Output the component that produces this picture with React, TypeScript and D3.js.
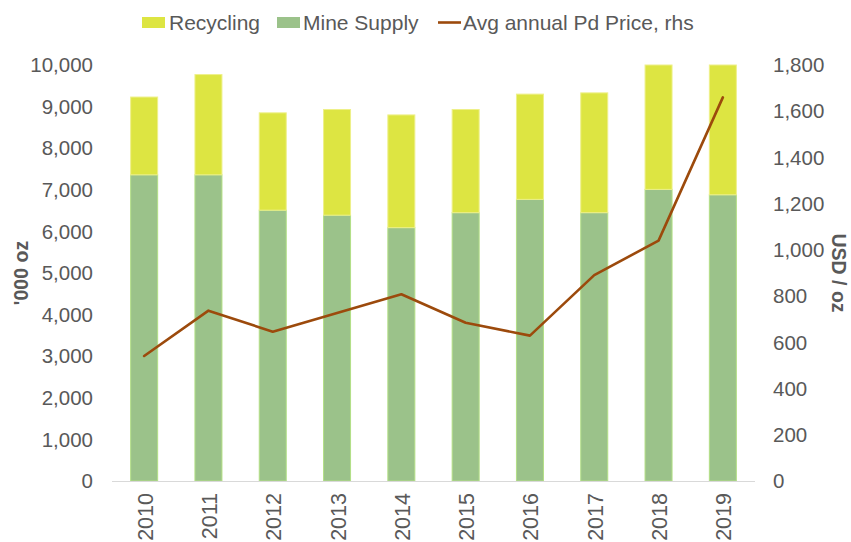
import React from "react";
import * as d3 from "d3";

const years = ["2010", "2011", "2012", "2013", "2014", "2015", "2016", "2017", "2018", "2019"];
const mineSupply = [7360, 7360, 6510, 6390, 6090, 6450, 6770, 6450, 7010, 6880];
const recycling = [1870, 2410, 2340, 2540, 2710, 2480, 2530, 2880, 2990, 3120];
const pdPrice = [541, 737, 646, 727, 808, 685, 629, 891, 1040, 1660];
const leftTicks = [0, 1000, 2000, 3000, 4000, 5000, 6000, 7000, 8000, 9000, 10000];
const rightTicks = [0, 200, 400, 600, 800, 1000, 1200, 1400, 1600, 1800];

const W = 851, H = 542;
const M = { left: 112, right: 755, top: 65, bottom: 481 };
const FONT = "'Liberation Sans', Arial, sans-serif";
const C_MINE = "#9bc28a";
const C_MINE_EDGE = "#b3df86";
const C_REC = "#dde542";
const C_REC_EDGE = "#eef08a";
const C_LINE = "#9c4a0c";
const C_TEXT = "#595959";

export default function App() {
  const x = d3.scaleBand<string>().domain(years).range([M.left, M.right]).paddingInner(0.58).paddingOuter(0.29);
  const yL = d3.scaleLinear().domain([0, 10000]).range([M.bottom, M.top]);
  const yR = d3.scaleLinear().domain([0, 1800]).range([M.bottom, M.top]);
  const fmt = d3.format(",");
  const bw = x.bandwidth();
  const cx = (y: string) => (x(y) as number) + bw / 2;
  const line = d3.line<number>().x((_, i) => cx(years[i])).y((d) => yR(d));

  return (
    <svg width={W} height={H} style={{ display: "block", position: "absolute", left: 0, top: 0 }} fontFamily={FONT}>
      <rect width={W} height={H} fill="#fff" />
      {/* bars */}
      {years.map((yr, i) => {
        const m = mineSupply[i];
        const total = Math.min(m + recycling[i], 10000);
        return (
          <g key={yr}>
            <rect x={x(yr)} y={yL(m)} width={bw} height={yL(0) - yL(m)} fill={C_MINE} stroke={C_MINE_EDGE} strokeWidth={1} />
            <rect x={x(yr)} y={yL(total)} width={bw} height={yL(m) - yL(total)} fill={C_REC} stroke={C_REC_EDGE} strokeWidth={1} />
          </g>
        );
      })}
      {/* baseline */}
      <line x1={M.left} x2={M.right} y1={M.bottom + 0.5} y2={M.bottom + 0.5} stroke="#d9d9d9" strokeWidth={1} />
      {/* line */}
      <path d={line(pdPrice) || ""} fill="none" stroke={C_LINE} strokeWidth={2.6} strokeLinejoin="round" strokeLinecap="round" />
      {/* left ticks */}
      {leftTicks.map((t) => (
        <text key={"l" + t} x={93} y={yL(t)} dy="0.35em" textAnchor="end" fontSize={20.5} fill={C_TEXT}>{fmt(t)}</text>
      ))}
      {/* right ticks */}
      {rightTicks.map((t) => (
        <text key={"r" + t} x={773} y={yR(t)} dy="0.35em" textAnchor="start" fontSize={20.5} fill={C_TEXT}>{fmt(t)}</text>
      ))}
      {/* x labels */}
      {years.map((yr) => (
        <text key={"x" + yr} transform={`translate(${cx(yr) + 1},${493}) rotate(-90)`} dy="0.35em" textAnchor="end" fontSize={21.5} fill={C_TEXT}>{yr}</text>
      ))}
      {/* axis titles */}
      <text transform={`translate(21,273) rotate(-90)`} dy="0.35em" textAnchor="middle" fontSize={19.5} fontWeight="bold" fill={C_TEXT}>'000 oz</text>
      <text transform={`translate(839,273) rotate(90)`} dy="0.35em" textAnchor="middle" fontSize={19.5} fontWeight="bold" fill={C_TEXT}>USD / oz</text>
      {/* legend */}
      <g fontSize={21} fill={C_TEXT}>
        <rect x={142} y={17} width={23} height={11} fill={C_REC} />
        <text x={169} y={23} dy="0.35em">Recycling</text>
        <rect x={277} y={17} width={23} height={11} fill={C_MINE} />
        <text x={303} y={23} dy="0.35em">Mine Supply</text>
        <line x1={438} x2={461} y1={22.5} y2={22.5} stroke={C_LINE} strokeWidth={2.6} />
        <text x={463} y={23} dy="0.35em">Avg annual Pd Price, rhs</text>
      </g>
    </svg>
  );
}
